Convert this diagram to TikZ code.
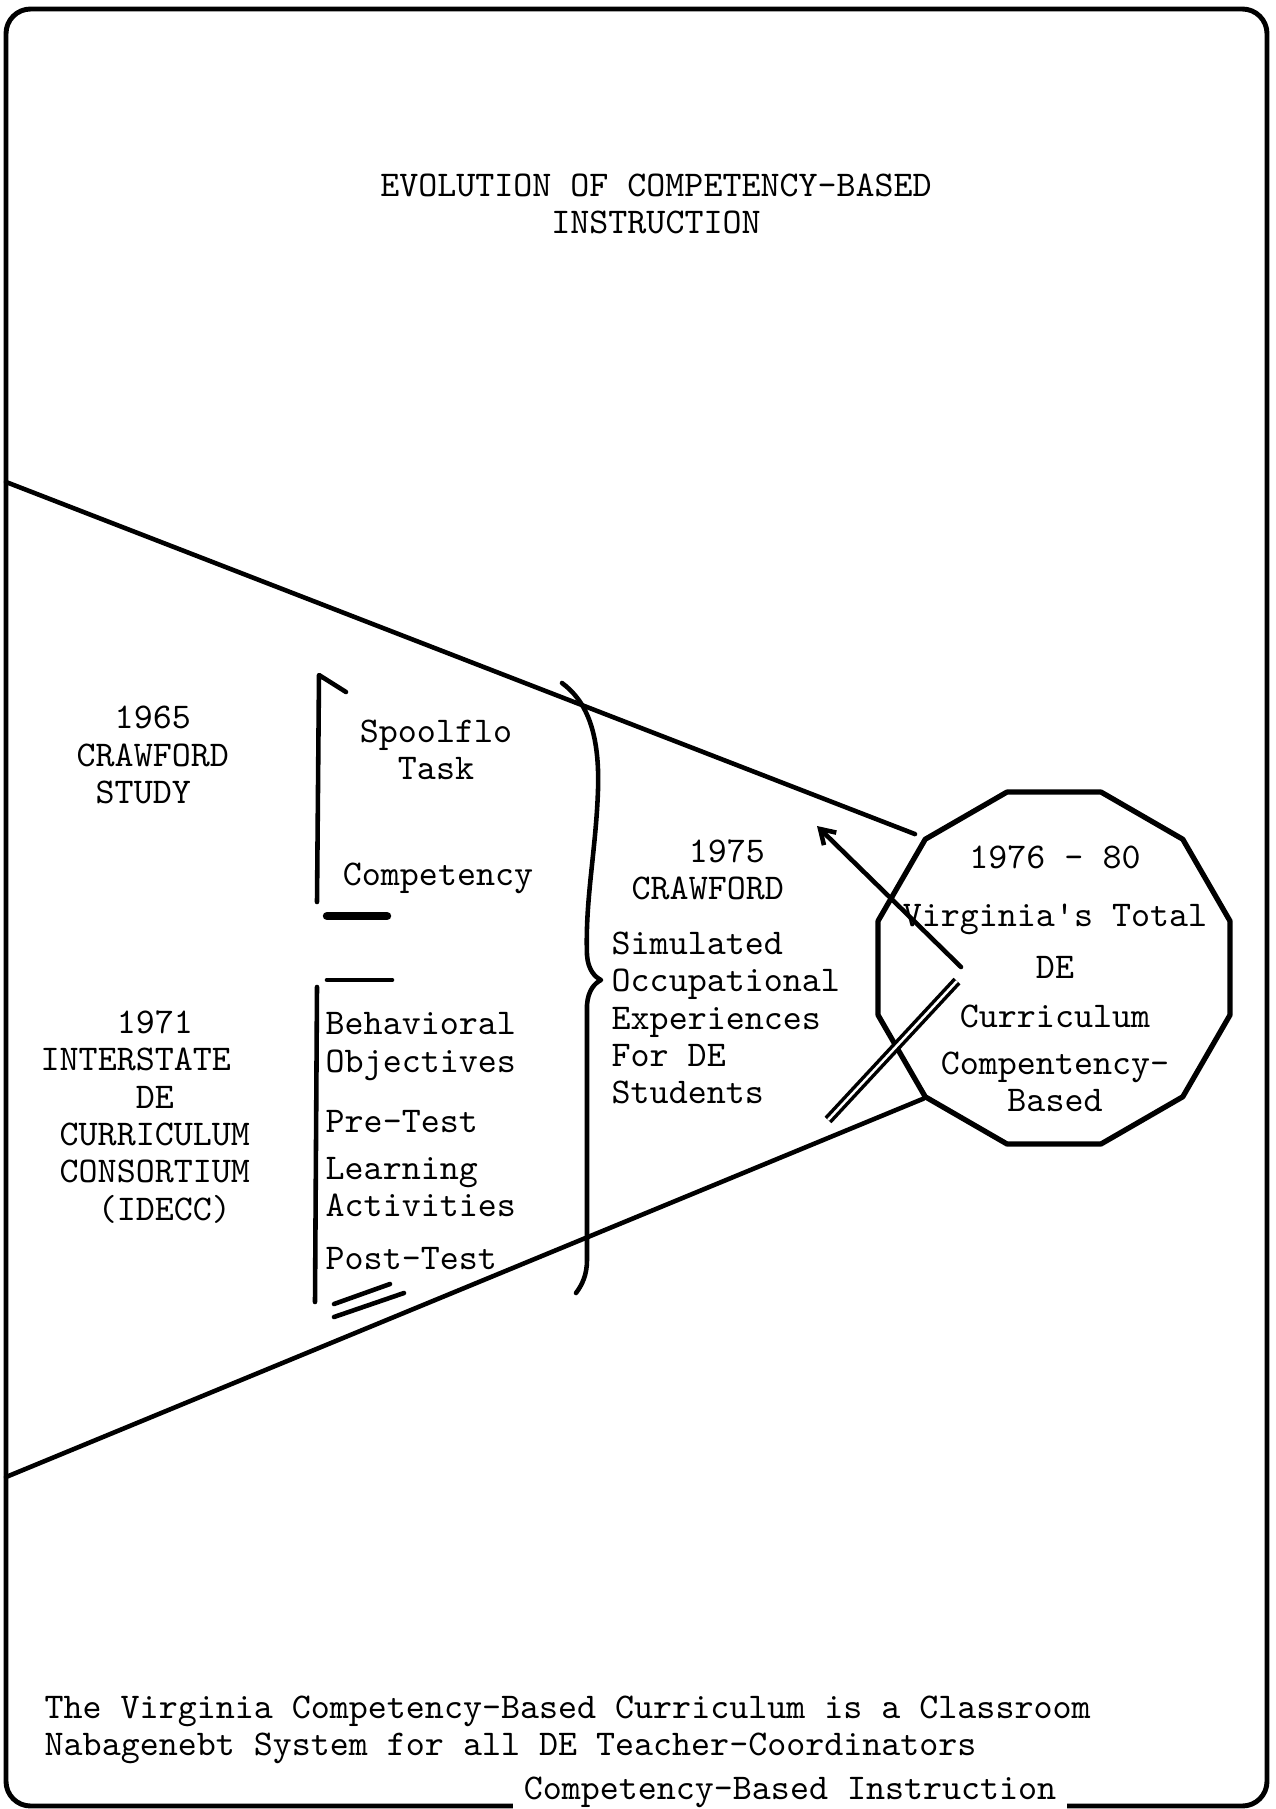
\documentclass[tikz,border=0pt]{standalone}
\usepackage{fontspec}
\usetikzlibrary{arrows.meta,positioning,shapes.geometric}
\tikzset{
  typed/.style={font=\ttfamily\fontsize{10.3}{10.6}\selectfont,inner sep=0pt},
  typedleft/.style={typed,align=left,anchor=west},
  typedmid/.style={typed,align=center},
  pen/.style={line width=1.3pt,line cap=round,line join=round},
  heavypen/.style={line width=2.4pt,line cap=round},
  twin/.style={double,double distance=0.7pt,line width=1pt},
  frame/.style={line width=1.4pt,rounded corners=7pt}
}
\newcommand{\gap}[1]{\hphantom{#1}}

\begin{document}
\begin{tikzpicture}[x=0.01cm,y=-0.01cm]
  \useasboundingbox (0,0) rectangle (1275,1809);
  % page frame
  \draw[frame] (6,9) rectangle (1267,1806);
  \node[typed,fill=white,inner xsep=3pt,inner ysep=1pt] (footer) at (790,1792) {Competency-Based Instruction};

  \node[typedmid] (title) at (656,204) {EVOLUTION OF COMPETENCY-BASED\\INSTRUCTION};

  % funnel into the goal
  \node[draw,pen,line width=1.5pt,regular polygon,regular polygon sides=12,
    minimum size=3.64cm,inner sep=0pt] (goal) at (1054,968) {};
  \coordinate (ftop) at (6,482);
  \coordinate (fbot) at (6,1477);
  \draw[pen,shorten >=2.5pt] (ftop) -- (goal.135);
  \draw[pen] (fbot) -- (goal.225);
  \node[typedmid] (goaltext) at (1055,979) {1976 - 80\\[6pt]Virginia's Total\\[4pt]DE\\[3.4pt]Curriculum\\[2.8pt]Compentency-\\Based};

  % cross marks
  \coordinate (xa) at (961,967);
  \coordinate (xb) at (817,826);
  \draw[pen,-{Straight Barb[length=4pt,width=5pt]}] (xa) -- (xb);
  \coordinate (da) at (828,1120);
  \coordinate (db) at (957,981);
  \draw[twin] (da) -- (db);

  % brackets
  \draw[pen] (346,692) -- (319,675) -- (317,902);
  \draw[heavypen] (327,916) -- (387,916);
  \draw[pen] (327,980) -- (392,980);
  \draw[pen] (317,987) -- (315,1302);
  \draw[pen] (334,1304) -- (390,1284);
  \draw[pen] (334,1317) -- (404,1293);

  % brace
  \draw[pen] (562,683) .. controls (585,700) and (600,730) .. (598,790)
    .. controls (596,850) and (585,900) .. (587,955)
    .. controls (588,970) and (595,977) .. (601,980)
    .. controls (595,983) and (588,990) .. (587,1005)
    -- (587,1260) .. controls (587,1275) and (582,1285) .. (576,1293);

  % labels
  \node[typedleft] (crawford65) at (76,755) {\gap{00}1965\\CRAWFORD\\\gap{0}STUDY};
  \node[typedleft] (idecc) at (40,1117) {\gap{0000}1971\\INTERSTATE\\\gap{00000}DE\\\gap{0}CURRICULUM\\\gap{0}CONSORTIUM\\\gap{000}(IDECC)};
  \node[typedmid] (spoolflo) at (436,750) {Spoolflo\\Task};
  \node[typed] (competency) at (438,878) {Competency};
  \node[typedleft] (objectives) at (325,1141) {Behavioral\\Objectives\\[6.5pt]Pre-Test\\[2.8pt]Learning\\Activities\\[4.3pt]Post-Test};
  \node[typedleft] (crawford75) at (631,870) {\gap{000}1975\\CRAWFORD};
  \node[typedleft] (simulated) at (611,1018) {Simulated\\Occupational\\Experiences\\For DE\\Students};
  \node[typedleft] (summary) at (44,1730) {The Virginia Competency-Based Curriculum is a Classroom\\Nabagenebt System for all DE Teacher-Coordinators};
\end{tikzpicture}
\end{document}
